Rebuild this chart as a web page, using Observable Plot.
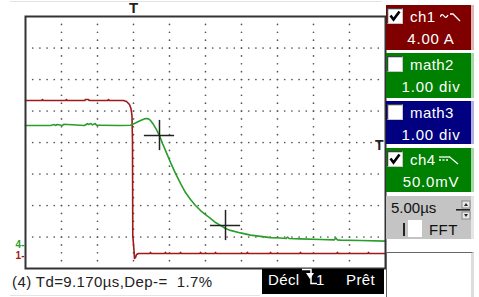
<!DOCTYPE html>
<html><head><meta charset="utf-8">
<script src="https://cdn.jsdelivr.net/npm/d3@7"></script>
<script src="https://cdn.jsdelivr.net/npm/@observablehq/plot@0.6"></script>
<style>
body{margin:0;background:#fff;}
#wrap{position:relative;width:479px;height:297px;overflow:hidden;background:#fff;font-family:"Liberation Sans",Arial,sans-serif;}
#wrap > svg{position:absolute;left:0;top:0;}
.abs{position:absolute;white-space:nowrap;}
.box{position:absolute;left:386px;width:85px;border-right:3px solid;}
.lbl{position:absolute;color:#fff;font-size:15px;line-height:14px;white-space:nowrap;letter-spacing:0.4px;}
</style>
</head><body>
<div id="wrap"></div>
<script>
// ---- data (time in µs, amplitude in screen divisions) ----
const redT = [-15,-12.74,-12.64,-12.54,-9.41,-9.31,-9.21,-6.77,-6.67,-6.25,-6.15,-3.57,-3.47,-3.37,-1.39,-0.97,-0.56,-0.35,-0.21,-0.14,-0.10,0.07,0.14,0.28,0.42,0.69,2.26,2.36,2.46,4.34,4.44,4.54,6.43,6.53,6.63,9.21,9.31,9.41,11.29,11.39,11.49,15.73,15.83,15.93,18.93,19.03,19.13,23.09,23.19,23.29,28.23,28.33,28.43,32.54,32.64,32.74,35];
const redV = [1.333,1.333,1.365,1.333,1.333,1.365,1.333,1.333,1.365,1.365,1.333,1.333,1.365,1.333,1.333,1.302,1.206,1.079,0.857,0.063,-2.952,-3.43,-3.683,-3.651,-3.556,-3.524,-3.524,-3.49,-3.524,-3.524,-3.49,-3.524,-3.524,-3.49,-3.524,-3.524,-3.49,-3.524,-3.524,-3.49,-3.524,-3.524,-3.49,-3.524,-3.524,-3.49,-3.524,-3.524,-3.49,-3.524,-3.524,-3.49,-3.524,-3.524,-3.49,-3.524,-3.524];
const greenT = [-15,-11.53,-11.0,-10.83,-10.6,-9.86,-9.7,-6.8,-6.4,-6.25,-5.9,-5.69,-5.3,-5.14,-4.9,-1.81,-0.42,0.28,0.97,1.67,2.08,2.36,2.78,3.19,3.61,4.03,4.44,5.14,5.83,6.53,7.22,7.92,8.61,9.31,10.0,10.69,11.39,12.08,12.78,13.47,14.86,16.25,17.64,19.03,20.42,21.2,21.4,21.6,23.19,25.97,27.9,28.1,28.3,28.75,31.53,35];
const greenV = [0.54,0.54,0.57,0.54,0.57,0.54,0.58,0.54,0.6,0.57,0.6,0.56,0.6,0.55,0.55,0.54,0.55,0.62,0.70,0.76,0.75,0.70,0.57,0.41,0.22,-0.03,-0.25,-0.63,-0.98,-1.30,-1.59,-1.81,-2.0,-2.16,-2.29,-2.41,-2.54,-2.63,-2.73,-2.79,-2.87,-2.94,-2.98,-3.02,-3.03,-3.05,-3.0,-3.05,-3.06,-3.08,-3.09,-3.03,-3.09,-3.10,-3.11,-3.13];
const cursorT = [3.61, 12.78];
const cursorV = [0.222, -2.635];
const groundLabels = ["4-", "1-"];
const groundV = [-3.24, -3.6];
const xDivTicks = [-10,-5,0,5,10,15,20,25,30];
const yDivTicks = [-3,-2,-1,0,1,2,3];
const panelNames = ["ch1","math2","math3","ch4"];
const panelValues = ["4.00 A","1.00 div","1.00 div","50.0mV"];
const panelChecked = [true,false,false,true];
const timebase = "5.00µs";
const measureText = "(4) Td=9.170µs,Dep-=  1.7%";
const trigText = ["Décl", "1", "Prêt"];

// ---- styles ----
const RED = "#a01818", GREEN = "#2a9e2a";
const panelBg = ["#800000","#008000","#000080","#008000"];
const panelEdge = ["#e2b4b4","#a8d8a8","#b0b0e4","#a8d8a8"];
const panelTop = [5,53,101,148];
const panelH = [45,45,43,44];

const red = redT.map((t,i)=>({t, v: redV[i]}));
const green = greenT.map((t,i)=>({t, v: greenV[i]}));
const cursors = cursorT.map((t,i)=>({t, v: cursorV[i]}));
const grounds = groundLabels.map((s,i)=>({s, v: groundV[i], c: i===0?GREEN:RED}));

// grid dots (derived from tick arrays)
const gridDots = [];
for (const t of xDivTicks) for (let k=1;k<32;k++) gridDots.push({t, v: -4 + k*0.25});
for (const v of yDivTicks) for (let k=1;k<50;k++) gridDots.push({t: -15 + k, v});

const armT = 2.1, armV = 0.48;

const plot = Plot.plot({
  width: 479, height: 297,
  marginLeft: 25, marginRight: 94, marginTop: 16, marginBottom: 29,
  x: {domain: [-15, 35], axis: null},
  y: {domain: [-4, 4], axis: null},
  style: {background: "transparent", fontFamily: "'Liberation Sans', Arial, sans-serif"},
  marks: [
    Plot.dot(gridDots, {x: "t", y: "v", r: 0.85, fill: "#555", stroke: null}),
    Plot.line(red, {x: "t", y: "v", stroke: RED, strokeWidth: 1.6, curve: "linear"}),
    Plot.line(green, {x: "t", y: "v", stroke: GREEN, strokeWidth: 1.6, curve: "linear"}),
    Plot.ruleY(cursors, {y: "v", x1: d=>d.t-armT, x2: d=>d.t+armT, stroke: "#222", strokeWidth: 1.5}),
    Plot.ruleX(cursors, {x: "t", y1: d=>d.v-armV, y2: d=>d.v+armV, stroke: "#222", strokeWidth: 1.5}),
    Plot.frame({stroke: "#333", strokeWidth: 2}),
    Plot.text([{t:0, v:4}], {x: "t", y: "v", text: ()=>"T", dy: -8, fontSize: 15, fontWeight: "bold", fill: "#222"}),
    Plot.text([{t:35, v:0}], {x: "t", y: "v", text: ()=>"T", dy: 3, dx: -2, textAnchor: "end", fontSize: 14, fontWeight: "bold", fill: "#222"}),
    Plot.text(grounds, {x: ()=>-15, y: "v", text: "s", fill: "c", textAnchor: "end", dx: -1, fontSize: 10, fontWeight: "bold"})
  ]
});
const wrap = document.getElementById("wrap");
wrap.appendChild(plot);

function el(html){ const d=document.createElement("div"); d.innerHTML=html; return d.firstElementChild; }
function checkbox(x,y,checked){
  return `<svg class="abs" style="left:${x}px;top:${y}px" width="16" height="16">
  <rect x="0.5" y="0.5" width="15" height="15" fill="#fff" stroke="#c8c8c8"/>
  <path d="M0.5 15.5 V0.5 H15.5" fill="none" stroke="#404040" stroke-width="1.5"/>
  ${checked?'<path d="M3.5 7.5 L6.5 11.5 L12.5 3.5" fill="none" stroke="#000" stroke-width="2.6"/>':''}
  </svg>`;
}
// faint separators
wrap.appendChild(el(`<div class="abs" style="left:10px;top:1px;width:372px;height:1px;background:#e4e4e4"></div>`));
wrap.appendChild(el(`<div class="abs" style="left:10px;top:295px;width:250px;height:1px;background:#e4e4e4"></div>`));

panelNames.forEach((name,i)=>{
  const top = panelTop[i];
  wrap.appendChild(el(`<div class="box" style="top:${top}px;height:${panelH[i]}px;background:${panelBg[i]};border-color:${panelEdge[i]}"></div>`));
  wrap.appendChild(el(checkbox(387, top+3, panelChecked[i])));
  wrap.appendChild(el(`<div class="lbl" style="left:410px;top:${top+5}px">${name}</div>`));
  wrap.appendChild(el(`<div class="lbl" style="left:386px;width:90px;text-align:center;top:${top+27}px;letter-spacing:0.8px">${panelValues[i]}</div>`));
});
// coupling / slope symbols
wrap.appendChild(el(`<svg class="abs" style="left:440px;top:11px" width="22" height="14"><path d="M0,6 Q2,2 4,5 T8,4" fill="none" stroke="#fff" stroke-width="1.3"/><path d="M10,3 H13 L20,10" fill="none" stroke="#fff" stroke-width="1.3"/></svg>`));
wrap.appendChild(el(`<svg class="abs" style="left:439px;top:153px" width="22" height="14"><path d="M0,4 H10" stroke="#fff" stroke-width="1.3"/><path d="M0,7 H10" stroke="#fff" stroke-width="1.3" stroke-dasharray="2,1.5"/><path d="M10,3.5 L19,11" fill="none" stroke="#fff" stroke-width="1.3"/></svg>`));

// timebase box
wrap.appendChild(el(`<div class="box" style="top:196px;height:43px;background:#c4c4c4;border-color:#e6e6e6"></div>`));
wrap.appendChild(el(`<div class="lbl" style="left:391px;top:201px;color:#111;letter-spacing:0">${timebase}</div>`));
wrap.appendChild(el(`<svg class="abs" style="left:455px;top:200px" width="16" height="20">
  <rect x="7" y="1" width="8" height="7" fill="#e8e8e8" stroke="#888"/><path d="M9,6 L11,3 L13,6Z" fill="#222"/>
  <rect x="1" y="9" width="14" height="1.6" fill="#222"/>
  <rect x="7" y="12" width="8" height="7" fill="#e8e8e8" stroke="#888"/><path d="M9,14 L11,17 L13,14Z" fill="#222"/>
</svg>`));
wrap.appendChild(el(`<div class="abs" style="left:403px;top:223px;width:2px;height:13px;background:#222"></div>`));
wrap.appendChild(el(`<div class="abs" style="left:408px;top:220px;width:14px;height:17px;background:#fff"></div>`));
wrap.appendChild(el(`<div class="lbl" style="left:429px;top:223px;color:#111">FFT</div>`));
// empty white box
wrap.appendChild(el(`<div class="abs" style="left:386px;top:252px;width:84px;height:50px;background:#fff;border:1px solid #666;border-right:3px solid #ddd"></div>`));

// measurement text
wrap.appendChild(el(`<div class="abs" style="left:12px;top:275px;font-size:15px;line-height:14px;color:#222;white-space:pre;letter-spacing:0.4px">${measureText}</div>`));
// trigger status
wrap.appendChild(el(`<div class="abs" style="left:262px;top:269px;width:122px;height:25px;background:#000"></div>`));
wrap.appendChild(el(`<div class="lbl" style="left:268px;top:273px">${trigText[0]}</div>`));
wrap.appendChild(el(`<svg class="abs" style="left:301px;top:268px" width="18" height="18"><path d="M1,1.5 H10 V15.5 H16" fill="none" stroke="#fff" stroke-width="1.5"/><path d="M5,5 L13,5 L9,11Z" fill="#fff"/></svg>`));
wrap.appendChild(el(`<div class="lbl" style="left:316px;top:273px">${trigText[1]}</div>`));
wrap.appendChild(el(`<div class="lbl" style="left:346px;top:273px">${trigText[2]}</div>`));
</script>
</body></html>
